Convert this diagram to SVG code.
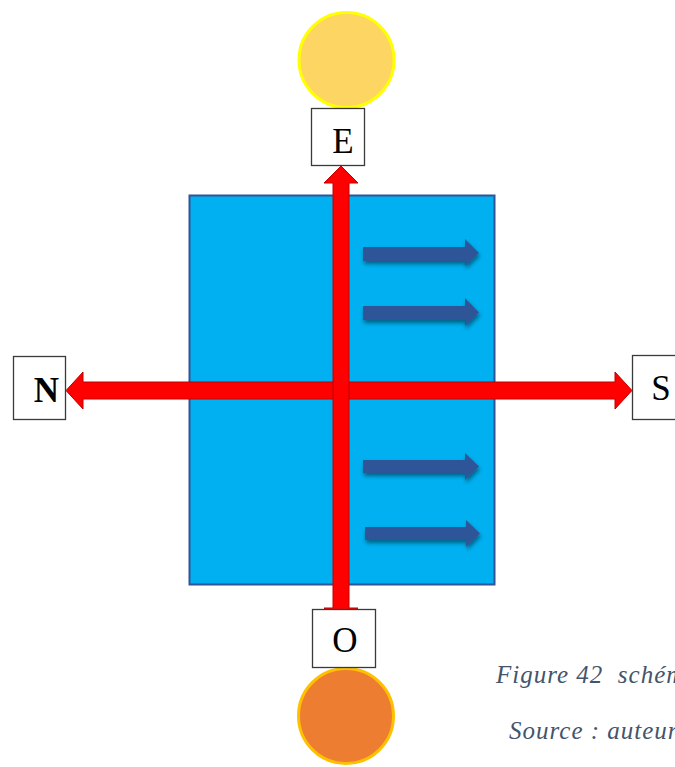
<svg xmlns="http://www.w3.org/2000/svg" width="675" height="767" viewBox="0 0 675 767">
  <defs>
    <style>
      .box { fill: #ffffff; stroke: #3a3a3a; stroke-width: 1.3; }
      .lbl { font-family: "Liberation Serif", Tinos, "Times New Roman", serif; font-size: 35px; fill: #000000; text-anchor: middle; }
      .red { fill: #ff0000; stroke: #c00000; stroke-width: 1; }
      .blu { fill: #2f5597; filter: url(#sh); }
      .cap { font-family: "Liberation Serif", Tinos, "Times New Roman", serif; font-style: italic; font-size: 25px; fill: #44546a; letter-spacing: 1px; white-space: pre; }
    </style>
    <filter id="sh" x="-10%" y="-50%" width="125%" height="220%">
      <feGaussianBlur in="SourceAlpha" stdDeviation="2"/>
      <feOffset dx="1" dy="3" result="b"/>
      <feComponentTransfer><feFuncA type="linear" slope="0.45"/></feComponentTransfer>
      <feMerge><feMergeNode/><feMergeNode in="SourceGraphic"/></feMerge>
    </filter>
  </defs>

  <g id="sun-east">
    <circle cx="346.5" cy="60" r="47.5" fill="#fdd563" stroke="#ffff00" stroke-width="3"/>
  </g>
  <g id="sun-west">
    <circle cx="346" cy="716" r="47.5" fill="#ed7d31" stroke="#ffc000" stroke-width="3"/>
  </g>

  <g id="building">
    <rect x="189.5" y="195.5" width="305" height="389" fill="#00b0f0" stroke="#2f5597" stroke-width="2"/>
  </g>

  <g id="wind-arrows">
    <polygon class="blu" points="363,247 465,247 465,239 479,253 465,266 465,261 363,261"/>
    <polygon class="blu" points="363,306 465,306 465,298 479,312.5 465,326 465,320 363,320"/>
    <polygon class="blu" points="363,460 465,460 465,453 479,466.5 465,480 465,473 363,473"/>
    <polygon class="blu" points="365,527 466,527 466,520 480,533.5 466,547 466,540 365,540"/>
  </g>

  <g id="connectors">
    <polygon class="red" points="66,390.5 83,372 83,382 615,382 615,372 632,390.5 615,409 615,399 83,399 83,409"/>
    <polygon class="red" points="341,166 358,183 349,183 349,608 358,608 341,625 324,608 333,608 333,183 324,183"/>
  </g>

  <g id="node-E">
    <rect class="box" x="311.5" y="108.5" width="53" height="57"/>
    <text class="lbl" x="343" y="153">E</text>
  </g>
  <g id="node-N">
    <rect class="box" x="13.5" y="356.5" width="52" height="63"/>
    <text class="lbl" x="46.5" y="402" font-weight="bold">N</text>
  </g>
  <g id="node-S">
    <rect class="box" x="632.5" y="355.5" width="64" height="64"/>
    <text class="lbl" x="661" y="400">S</text>
  </g>
  <g id="node-O">
    <rect class="box" x="312.5" y="609.5" width="63" height="58"/>
    <text class="lbl" x="345" y="652">O</text>
  </g>

  <g id="caption">
    <text class="cap" x="496" y="683" xml:space="preserve">Figure 42  schém</text>
    <text class="cap" x="509" y="739">Source : auteur</text>
  </g>
</svg>
